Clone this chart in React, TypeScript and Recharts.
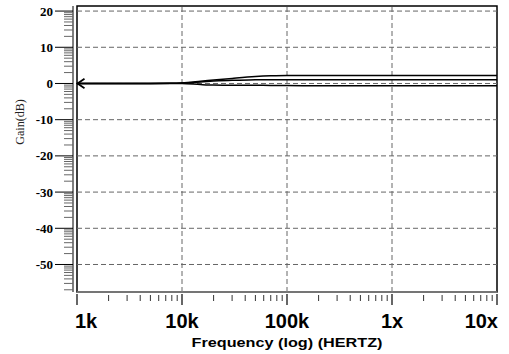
import { LineChart, Line, XAxis, YAxis, ReferenceLine, ReferenceArea, ReferenceDot, Label } from 'recharts'

// sweep frequencies (Hz) and gain of each trace (dB)
const freqs = [1e3, 2e3, 5e3, 8e3, 1e4, 1.5e4, 2e4, 3e4, 5e4, 7e4, 1e5, 2e5, 5e5, 1e6, 2e6, 5e6, 1e7]
const gainHigh = [0, 0, 0, 0.05, 0.15, 0.6, 0.95, 1.4, 1.9, 2.1, 2.2, 2.2, 2.2, 2.2, 2.2, 2.2, 2.2]
const gainMid = [0, 0, 0, 0.03, 0.1, 0.4, 0.65, 0.9, 1.0, 1.05, 1.05, 1.05, 1.05, 1.05, 1.05, 1.05, 1.05]
const gainLow = [0, 0, 0, 0, 0, -0.3, -0.45, -0.5, -0.5, -0.55, -0.55, -0.65, -0.65, -0.65, -0.65, -0.65, -0.65]

const xMajorTicks = [1e3, 1e4, 1e5, 1e6, 1e7]
const xTickLabels = ['1k', '10k', '100k', '1x', '10x']
const xGrid = [1e4, 1e5, 1e6]
const yMajorTicks = [20, 10, 0, -10, -20, -30, -40, -50]
const yDomain: [number, number] = [-57.6, 21.4]

const data = freqs.map((f, i) => ({ f, high: gainHigh[i], mid: gainMid[i], low: gainLow[i] }))

const steps = [2, 3, 4, 5, 6, 7, 8, 9]
const xMinorTicks = xMajorTicks.slice(0, -1).flatMap((d) => steps.map((k) => d * k))
// minor marks on the gain axis follow a log spacing below each major value
const yMinorTicks = yMajorTicks.flatMap((m) => steps.map((k) => m - 10 * (1 - Math.log10(k))))

const XTick = (props: any) => {
  const { x, y, payload } = props
  const i = xMajorTicks.indexOf(payload.value)
  if (i < 0) return <line x1={x} y1={y + 3} x2={x} y2={y + 9} stroke="#333" />
  const last = xMajorTicks.length - 1
  const anchor = i === 0 ? 'start' : i === last ? 'end' : 'middle'
  const tx = i === 0 ? x - 2 : i === last ? x + 1 : x
  return (
    <g>
      <line x1={x} y1={y + 2} x2={x} y2={y + 13} stroke="#000" strokeWidth={1.2} />
      <text x={tx} y={y + 36} textAnchor={anchor} fontSize={20} fontWeight="bold" fontFamily="'Liberation Sans', Arial, sans-serif" fill="#000">
        {xTickLabels[i]}
      </text>
    </g>
  )
}

const YTick = (props: any) => {
  const { x, y, payload } = props
  if (!yMajorTicks.includes(payload.value)) return <line x1={x - 9} y1={y} x2={x} y2={y} stroke="#666" />
  return (
    <g>
      <line x1={x - 18} y1={y} x2={x} y2={y} stroke="#000" />
      <text x={x - 20} y={y} dy={4.5} textAnchor="end" fontSize={13} fontWeight="bold" fontFamily="'Liberation Serif', 'Times New Roman', serif" fill="#000">
        {`${payload.value}`}
      </text>
    </g>
  )
}

const XTitle = (props: any) => {
  const { x, y, width } = props.viewBox
  return (
    <text x={x + width / 2} y={y + 55} textAnchor="middle" fontSize={13} fontWeight="bold" fontFamily="'Liberation Sans', Arial, sans-serif" textLength={191} lengthAdjust="spacingAndGlyphs" fill="#000">
      Frequency (log) (HERTZ)
    </text>
  )
}

const YTitle = (props: any) => {
  const { y, height } = props.viewBox
  const cx = 20
  const cy = y + height / 2 - 27
  return (
    <text x={cx} y={cy} transform={`rotate(-90 ${cx} ${cy})`} textAnchor="middle" dy={4} fontSize={12} fontFamily="'Liberation Serif', 'Times New Roman', serif" fill="#222">
      Gain(dB)
    </text>
  )
}

const Arrow = (props: any) => {
  const { cx, cy } = props
  return <path d={`M${cx + 7.5},${cy - 4.7} L${cx + 0.5},${cy} L${cx + 7.5},${cy + 4.7}`} fill="none" stroke="#000" strokeWidth={1.8} />
}

export default function App() {
  return (
    <div style={{ position: 'absolute', left: 0, top: 0 }}>
      <LineChart width={509} height={354} data={data} margin={{ top: 6, right: 12, left: 0, bottom: 0 }}>
        <XAxis
          dataKey="f"
          type="number"
          scale="log"
          domain={[1e3, 1e7]}
          ticks={[...xMajorTicks, ...xMinorTicks]}
          interval={0}
          tickSize={0}
          tickMargin={0}
          tickLine={false}
          tick={<XTick />}
          axisLine={{ stroke: '#888', strokeWidth: 1.5 }}
          height={62}
          allowDataOverflow
          label={<Label content={<XTitle />} />}
        />
        <YAxis yAxisId="plot" type="number" domain={yDomain} width={4} tick={false} tickLine={false} axisLine={false} allowDataOverflow />
        <YAxis
          yAxisId="scale"
          type="number"
          domain={yDomain}
          width={73}
          ticks={[...yMajorTicks, ...yMinorTicks]}
          interval={0}
          tickSize={0}
          tickMargin={0}
          tickLine={false}
          tick={<YTick />}
          axisLine={{ stroke: '#000' }}
          allowDataOverflow
          label={<Label content={<YTitle />} />}
        />
        {xGrid.map((v) => (
          <ReferenceLine key={`x${v}`} x={v} yAxisId="plot" stroke="#666" strokeDasharray="5 3" />
        ))}
        {yMajorTicks.map((v) => (
          <ReferenceLine key={`y${v}`} y={v} yAxisId="plot" stroke="#666" strokeDasharray="5 3" />
        ))}
        <ReferenceArea x1={1e3} x2={1e7} y1={yDomain[0]} y2={yDomain[1]} yAxisId="plot" fill="none" stroke="#000" strokeWidth={1.5} ifOverflow="visible" />
        <Line yAxisId="plot" type="monotone" dataKey="low" stroke="#000" strokeWidth={1.5} dot={false} isAnimationActive={false} />
        <Line yAxisId="plot" type="monotone" dataKey="mid" stroke="#000" strokeWidth={1.5} dot={false} isAnimationActive={false} />
        <Line yAxisId="plot" type="monotone" dataKey="high" stroke="#000" strokeWidth={1.5} dot={false} isAnimationActive={false} />
        <ReferenceDot x={1e3} y={0} yAxisId="plot" r={0} shape={<Arrow />} ifOverflow="visible" />
      </LineChart>
    </div>
  )
}
